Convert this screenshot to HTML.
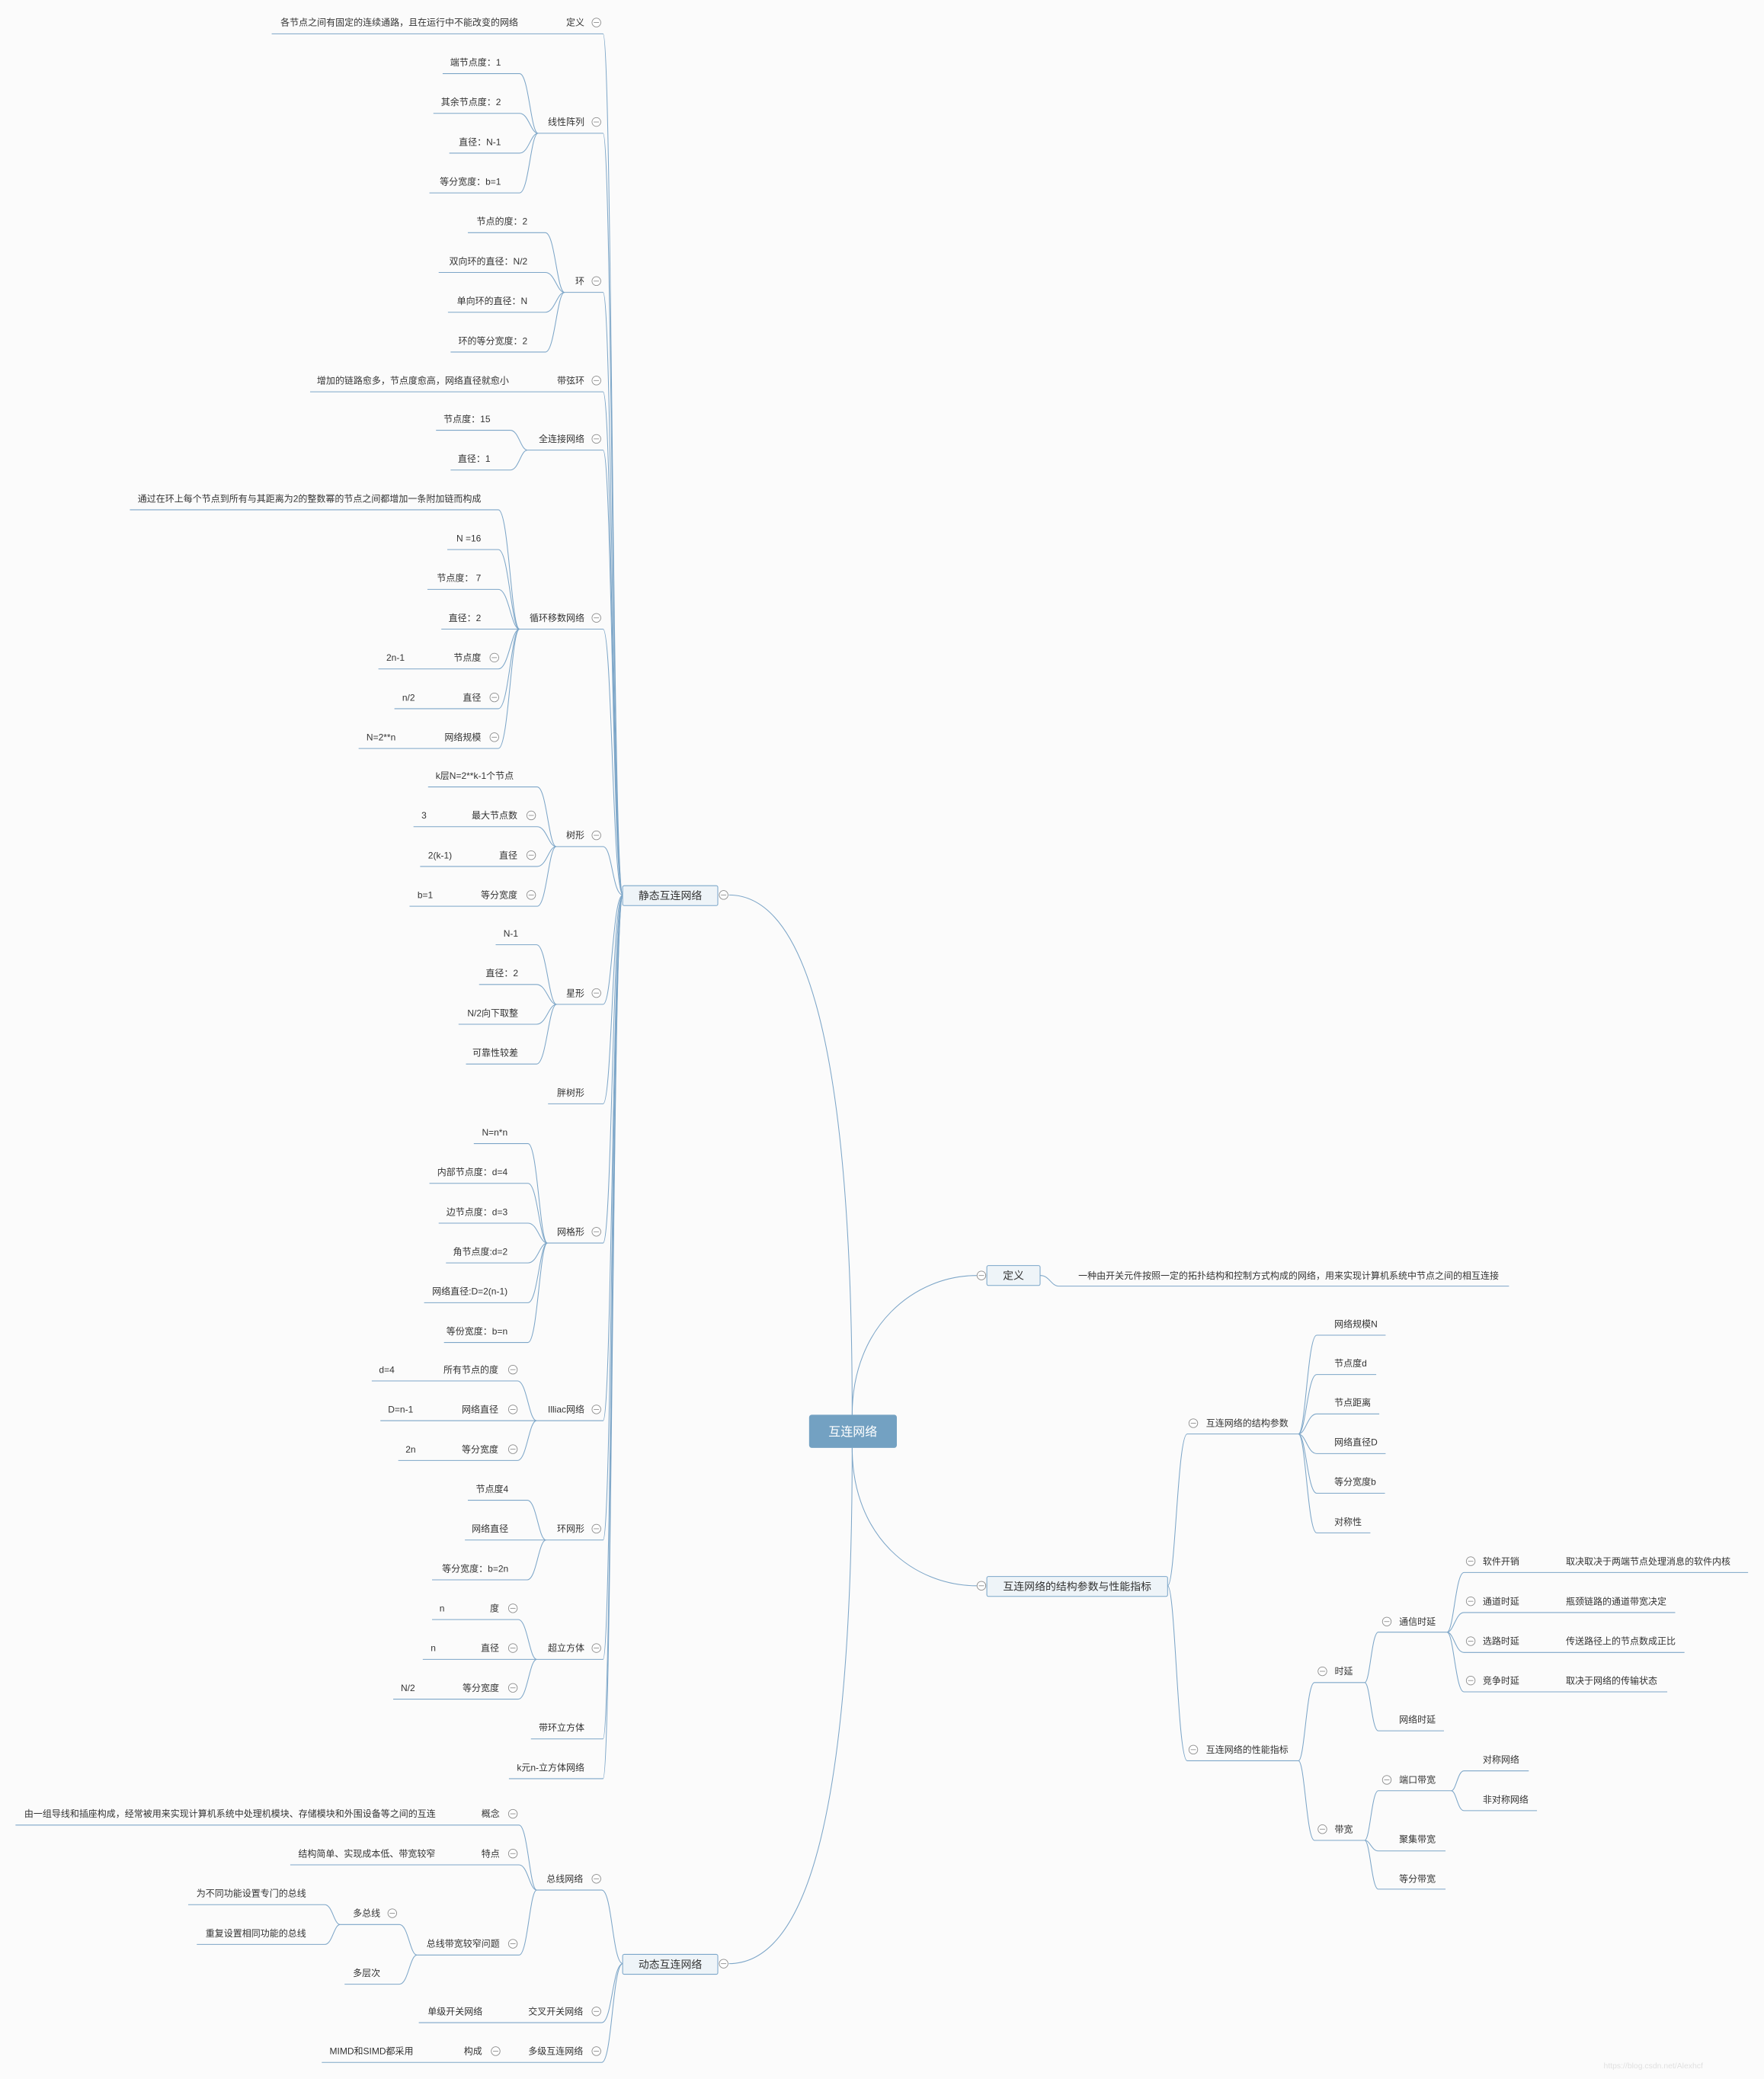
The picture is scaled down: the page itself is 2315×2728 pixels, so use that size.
<!DOCTYPE html>
<html><head><meta charset="utf-8"><style>
html,body{margin:0;padding:0;background:#fbfbfb;}
svg{display:block;}
text{font-family:"Liberation Sans","Noto Sans CJK SC",sans-serif;font-size:6.9px;fill:#333;}
.e{text-anchor:end;}
.l{fill:none;stroke:#7da6c8;stroke-width:0.6;}
</style></head><body>
<svg width="2315" height="2728" viewBox="0 0 1331 1568" preserveAspectRatio="none" xmlns="http://www.w3.org/2000/svg">
<defs>
<g id="c"><circle r="3.3" fill="#fff" stroke="#8a8a8a" stroke-width="0.5"/><path d="M-2 0H2" stroke="#8a8a8a" stroke-width="0.5"/></g>
</defs>
<rect width="1331" height="1568" fill="#fbfbfb"/>

<!-- root connectors -->
<g class="l">
<path d="M643 1067C643 760 600 675 550 675"/>
<path d="M643 1092C643 1400 600 1481 550 1481"/>
<path d="M643 1067C643 1000 690 962 737 962"/>
<path d="M643 1092C643 1160 690 1196 737 1196"/>

<!-- static L1 -->
<path d="M205 25.5H455C462 25.5 462 675 470 675"/>
<path d="M406 100.5H455C462 100.5 462 675 470 675"/>
<path d="M426 220.5H455C462 220.5 462 675 470 675"/>
<path d="M234 295.5H455C462 295.5 462 675 470 675"/>
<path d="M398 339.5H455C462 339.5 462 675 470 675"/>
<path d="M392 474.5H455C462 474.5 462 675 470 675"/>
<path d="M419.7 638.5H455C462 638.5 462 675 470 675"/>
<path d="M420 757.5H455C462 757.5 462 675 470 675"/>
<path d="M413.5 832.5H455C462 832.5 462 675 470 675"/>
<path d="M413 937.5H455C462 937.5 462 675 470 675"/>
<path d="M404.8 1071.5H455C462 1071.5 462 675 470 675"/>
<path d="M412 1161.5H455C462 1161.5 462 675 470 675"/>
<path d="M405 1251.5H455C462 1251.5 462 675 470 675"/>
<path d="M400.6 1311.5H455C462 1311.5 462 675 470 675"/>
<path d="M384 1341.5H455C462 1341.5 462 675 470 675"/>

<!-- 线性阵列 -->
<path d="M334 55.5H392C399 55.5 400.4 100.5 406 100.5"/>
<path d="M327 85.5H392C399 85.5 400.4 100.5 406 100.5"/>
<path d="M339 115.5H392C399 115.5 400.4 100.5 406 100.5"/>
<path d="M324 145.5H392C399 145.5 400.4 100.5 406 100.5"/>
<!-- 环 -->
<path d="M353 175.5H411.5C418.7 175.5 420.2 220.5 426 220.5"/>
<path d="M331 205.5H411.5C418.7 205.5 420.2 220.5 426 220.5"/>
<path d="M338 235.5H411.5C418.7 235.5 420.2 220.5 426 220.5"/>
<path d="M340 265.5H411.5C418.7 265.5 420.2 220.5 426 220.5"/>
<!-- 全连接 -->
<path d="M329 324.5H385C391.5 324.5 392.8 339.5 398 339.5"/>
<path d="M340 354.5H385C391.5 354.5 392.8 339.5 398 339.5"/>
<!-- 循环移数 -->
<path d="M98 384.5H376C384 384.5 385.6 474.5 392 474.5"/>
<path d="M337.5 414.5H376C384 414.5 385.6 474.5 392 474.5"/>
<path d="M322.5 444.5H376C384 444.5 385.6 474.5 392 474.5"/>
<path d="M333 474.5H392"/>
<path d="M285.5 504.5H376C384 504.5 385.6 474.5 392 474.5"/>
<path d="M297.6 534.5H376C384 534.5 385.6 474.5 392 474.5"/>
<path d="M270.6 564.5H376C384 564.5 385.6 474.5 392 474.5"/>
<!-- 树形 -->
<path d="M323 593.5H405.3C412.5 593.5 413.9 638.5 419.7 638.5"/>
<path d="M312 623.5H405.3C412.5 623.5 413.9 638.5 419.7 638.5"/>
<path d="M317 653.5H405.3C412.5 653.5 413.9 638.5 419.7 638.5"/>
<path d="M309 683.5H405.3C412.5 683.5 413.9 638.5 419.7 638.5"/>
<!-- 星形 -->
<path d="M374 712.5H404.8C412.4 712.5 413.9 757.5 420 757.5"/>
<path d="M361.5 742.5H404.8C412.4 742.5 413.9 757.5 420 757.5"/>
<path d="M346 772.5H404.8C412.4 772.5 413.9 757.5 420 757.5"/>
<path d="M351.6 802.5H404.8C412.4 802.5 413.9 757.5 420 757.5"/>
<!-- 网格形 -->
<path d="M357.5 862.5H398.4C405.7 862.5 407.2 937.5 413 937.5"/>
<path d="M324 892.5H398.4C405.7 892.5 407.2 937.5 413 937.5"/>
<path d="M331 922.5H398.4C405.7 922.5 407.2 937.5 413 937.5"/>
<path d="M336.5 952.5H398.4C405.7 952.5 407.2 937.5 413 937.5"/>
<path d="M320 982.5H398.4C405.7 982.5 407.2 937.5 413 937.5"/>
<path d="M335 1012.5H398.4C405.7 1012.5 407.2 937.5 413 937.5"/>
<!-- Illiac -->
<path d="M280.5 1041.5H390.4C397.6 1041.5 399 1071.5 404.8 1071.5"/>
<path d="M287 1071.5H404.8"/>
<path d="M300.5 1101.5H390.4C397.6 1101.5 399 1071.5 404.8 1071.5"/>
<!-- 环网形 -->
<path d="M353 1131.5H397.8C404.9 1131.5 406.3 1161.5 412 1161.5"/>
<path d="M350.8 1161.5H412"/>
<path d="M326 1191.5H397.8C404.9 1191.5 406.3 1161.5 412 1161.5"/>
<!-- 超立方体 -->
<path d="M326 1221.5H391C398 1221.5 399.4 1251.5 405 1251.5"/>
<path d="M319 1251.5H405"/>
<path d="M296.7 1281.5H391C398 1281.5 399.4 1251.5 405 1251.5"/>

<!-- dynamic L1 -->
<path d="M405 1425.5H454C462 1425.5 462 1481 470 1481"/>
<path d="M316 1525.5H454C462 1525.5 462 1481 470 1481"/>
<path d="M242.8 1555.5H454C462 1555.5 462 1481 470 1481"/>
<!-- 总线网络 -->
<path d="M11.7 1376.5H391.6C398.3 1376.5 399.6 1425.5 405 1425.5"/>
<path d="M219 1406.5H391.6C398.3 1406.5 399.6 1425.5 405 1425.5"/>
<path d="M314.6 1474.5H391.6C398.3 1474.5 399.6 1425.5 405 1425.5"/>
<path d="M256.6 1451.5H301.4C308 1451.5 309.3 1474.5 314.6 1474.5"/>
<path d="M260 1496.5H301.4C308 1496.5 309.3 1474.5 314.6 1474.5"/>
<path d="M142 1436.5H245C250.8 1436.5 252 1451.5 256.6 1451.5"/>
<path d="M148.5 1466.5H245C250.8 1466.5 252 1451.5 256.6 1451.5"/>

<!-- right side -->
<path d="M785 962C792 962 793 970 799 970H1138.6"/>
<path d="M881 1196C886.9 1196 888.4 1081.5 895.8 1081.5H979.7"/>
<path d="M881 1196C886.9 1196 888.4 1328 895.8 1328H979.7"/>
<path d="M979.7 1081.5C985.2 1081.5 986.6 1007 993.5 1007H1045.5"/>
<path d="M979.7 1081.5C985.2 1081.5 986.6 1036.7 993.5 1036.7H1038.4"/>
<path d="M979.7 1081.5C985.2 1081.5 986.6 1066.4 993.5 1066.4H1040.7"/>
<path d="M979.7 1081.5C985.2 1081.5 986.6 1096.3 993.5 1096.3H1045.5"/>
<path d="M979.7 1081.5C985.2 1081.5 986.6 1126.2 993.5 1126.2H1045"/>
<path d="M979.7 1081.5C985.2 1081.5 986.6 1156.1 993.5 1156.1H1034"/>
<path d="M979.7 1328C984.5 1328 985.8 1269 991.8 1269H1029.7"/>
<path d="M979.7 1328C984.5 1328 985.8 1388 991.8 1388H1029.7"/>
<path d="M1029.7 1269C1033.8 1269 1034.9 1231 1040 1231H1091.8"/>
<path d="M1029.7 1269C1033.8 1269 1034.9 1305.4 1040 1305.4H1089.5"/>
<path d="M1091.8 1231C1096.9 1231 1098.2 1186 1104.6 1186H1319"/>
<path d="M1091.8 1231C1096.9 1231 1098.2 1216.2 1104.6 1216.2H1264"/>
<path d="M1091.8 1231C1096.9 1231 1098.2 1246.3 1104.6 1246.3H1271"/>
<path d="M1091.8 1231C1096.9 1231 1098.2 1276 1104.6 1276H1258"/>
<path d="M1029.7 1388C1033.8 1388 1034.9 1350.6 1040 1350.6H1095"/>
<path d="M1029.7 1388C1033.8 1388 1034.9 1396 1040 1396H1090.7"/>
<path d="M1029.7 1388C1033.8 1388 1034.9 1424.8 1040 1424.8H1090.7"/>
<path d="M1095 1350.6C1098.8 1350.6 1099.8 1335.6 1104.6 1335.6H1153.5"/>
<path d="M1095 1350.6C1098.8 1350.6 1099.8 1365.6 1104.6 1365.6H1159.7"/>
</g>

<!-- boxes -->
<rect x="610.5" y="1067" width="66.2" height="25" rx="2" fill="#73a1c2"/>
<text x="643.5" y="1082.8" style="font-size:9.2px;fill:#fff;text-anchor:middle">互连网络</text>
<rect x="469.8" y="668" width="71.8" height="15" rx="1.2" fill="#eef4f8" stroke="#7ba6c9" stroke-width="0.6"/>
<text x="505.7" y="678.3" style="font-size:8px;text-anchor:middle">静态互连网络</text>
<rect x="469.8" y="1474" width="71.8" height="15" rx="1.2" fill="#eef4f8" stroke="#7ba6c9" stroke-width="0.6"/>
<text x="505.7" y="1484.3" style="font-size:8px;text-anchor:middle">动态互连网络</text>
<rect x="744.6" y="954.5" width="40.2" height="15" rx="1.2" fill="#eef4f8" stroke="#7ba6c9" stroke-width="0.6"/>
<text x="764.7" y="964.8" style="font-size:8px;text-anchor:middle">定义</text>
<rect x="744.6" y="1189" width="136.4" height="15" rx="1.2" fill="#eef4f8" stroke="#7ba6c9" stroke-width="0.6"/>
<text x="812.8" y="1199.3" style="font-size:8px;text-anchor:middle">互连网络的结构参数与性能指标</text>

<!-- circles -->
<use href="#c" x="546" y="675"/><use href="#c" x="546" y="1481"/>
<use href="#c" x="740.5" y="962"/><use href="#c" x="740.5" y="1196"/>
<use href="#c" x="450" y="17"/><use href="#c" x="450" y="92"/><use href="#c" x="450" y="212"/>
<use href="#c" x="450" y="287"/><use href="#c" x="450" y="331"/><use href="#c" x="450" y="466"/>
<use href="#c" x="450" y="630"/><use href="#c" x="450" y="749"/><use href="#c" x="450" y="929"/>
<use href="#c" x="450" y="1063"/><use href="#c" x="450" y="1153"/><use href="#c" x="450" y="1243"/>
<use href="#c" x="373" y="496"/><use href="#c" x="373" y="526"/><use href="#c" x="373" y="556"/>
<use href="#c" x="400.8" y="615"/><use href="#c" x="400.8" y="645"/><use href="#c" x="400.8" y="675"/>
<use href="#c" x="387" y="1033"/><use href="#c" x="387" y="1063"/><use href="#c" x="387" y="1093"/>
<use href="#c" x="387" y="1213"/><use href="#c" x="387" y="1243"/><use href="#c" x="387" y="1273"/>
<use href="#c" x="450" y="1417"/><use href="#c" x="450" y="1517"/><use href="#c" x="450" y="1547"/>
<use href="#c" x="387" y="1368"/><use href="#c" x="387" y="1398"/><use href="#c" x="387" y="1466"/>
<use href="#c" x="296" y="1443"/><use href="#c" x="374" y="1547"/>
<use href="#c" x="900.4" y="1073.4"/><use href="#c" x="900.4" y="1319.6"/>
<use href="#c" x="997.8" y="1260.5"/><use href="#c" x="997.8" y="1379.6"/>
<use href="#c" x="1046.4" y="1223"/><use href="#c" x="1046.4" y="1342.4"/>
<use href="#c" x="1109.7" y="1177.5"/><use href="#c" x="1109.7" y="1207.7"/>
<use href="#c" x="1109.7" y="1237.8"/><use href="#c" x="1109.7" y="1267.5"/>

<!-- static texts -->
<text class="e" x="441" y="19.4">定义</text>
<text class="e" x="391" y="19.4">各节点之间有固定的连续通路，且在运行中不能改变的网络</text>
<text class="e" x="441" y="94.4">线性阵列</text>
<text class="e" x="378" y="49.4">端节点度：1</text>
<text class="e" x="378" y="79.4">其余节点度：2</text>
<text class="e" x="378" y="109.4">直径：N-1</text>
<text class="e" x="378" y="139.4">等分宽度：b=1</text>
<text class="e" x="441" y="214.4">环</text>
<text class="e" x="398" y="169.4">节点的度：2</text>
<text class="e" x="398" y="199.4">双向环的直径：N/2</text>
<text class="e" x="398" y="229.4">单向环的直径：N</text>
<text class="e" x="398" y="259.4">环的等分宽度：2</text>
<text class="e" x="441" y="289.4">带弦环</text>
<text class="e" x="384" y="289.4">增加的链路愈多，节点度愈高，网络直径就愈小</text>
<text class="e" x="441" y="333.4">全连接网络</text>
<text class="e" x="370" y="318.4">节点度：15</text>
<text class="e" x="370" y="348.4">直径：1</text>
<text class="e" x="441" y="468.4">循环移数网络</text>
<text class="e" x="363" y="378.4">通过在环上每个节点到所有与其距离为2的整数幂的节点之间都增加一条附加链而构成</text>
<text class="e" x="363" y="408.4">N =16</text>
<text class="e" x="363" y="438.4">节点度：  7</text>
<text class="e" x="363" y="468.4">直径：2</text>
<text class="e" x="363" y="498.4">节点度</text><text x="291.5" y="498.4">2n-1</text>
<text class="e" x="363" y="528.4">直径</text><text x="303.5" y="528.4">n/2</text>
<text class="e" x="363" y="558.4">网络规模</text><text x="276.5" y="558.4">N=2**n</text>
<text class="e" x="441" y="632.4">树形</text>
<text class="e" x="387.6" y="587.4">k层N=2**k-1个节点</text>
<text class="e" x="390.4" y="617.4">最大节点数</text><text x="318" y="617.4">3</text>
<text class="e" x="390.4" y="647.4">直径</text><text x="323" y="647.4">2(k-1)</text>
<text class="e" x="390.4" y="677.4">等分宽度</text><text x="315" y="677.4">b=1</text>
<text class="e" x="441" y="751.4">星形</text>
<text class="e" x="391" y="706.4">N-1</text>
<text class="e" x="391" y="736.4">直径：2</text>
<text class="e" x="391" y="766.4">N/2向下取整</text>
<text class="e" x="391" y="796.4">可靠性较差</text>
<text class="e" x="441" y="826.4">胖树形</text>
<text class="e" x="441" y="931.4">网格形</text>
<text class="e" x="383" y="856.4">N=n*n</text>
<text class="e" x="383" y="886.4">内部节点度：d=4</text>
<text class="e" x="383" y="916.4">边节点度：d=3</text>
<text class="e" x="383" y="946.4">角节点度:d=2</text>
<text class="e" x="383" y="976.4">网络直径:D=2(n-1)</text>
<text class="e" x="383" y="1006.4">等份宽度：b=n</text>
<text class="e" x="441" y="1065.4">Illiac网络</text>
<text class="e" x="376" y="1035.4">所有节点的度</text><text x="286" y="1035.4">d=4</text>
<text class="e" x="376" y="1065.4">网络直径</text><text x="292.8" y="1065.4">D=n-1</text>
<text class="e" x="376" y="1095.4">等分宽度</text><text x="306" y="1095.4">2n</text>
<text class="e" x="441" y="1155.4">环网形</text>
<text class="e" x="383.6" y="1125.4">节点度4</text>
<text class="e" x="383.6" y="1155.4">网络直径</text>
<text class="e" x="383.6" y="1185.4">等分宽度：b=2n</text>
<text class="e" x="441" y="1245.4">超立方体</text>
<text class="e" x="376.6" y="1215.4">度</text><text x="331.6" y="1215.4">n</text>
<text class="e" x="376.6" y="1245.4">直径</text><text x="325" y="1245.4">n</text>
<text class="e" x="376.6" y="1275.4">等分宽度</text><text x="302.4" y="1275.4">N/2</text>
<text class="e" x="441" y="1305.4">带环立方体</text>
<text class="e" x="441" y="1335.4">k元n-立方体网络</text>

<!-- dynamic texts -->
<text class="e" x="440" y="1419.4">总线网络</text>
<text class="e" x="377" y="1370.4">概念</text>
<text x="18.3" y="1370.4">由一组导线和插座构成，经常被用来实现计算机系统中处理机模块、存储模块和外围设备等之间的互连</text>
<text class="e" x="377" y="1400.4">特点</text>
<text x="225" y="1400.4">结构简单、实现成本低、带宽较窄</text>
<text class="e" x="377" y="1468.4">总线带宽较窄问题</text>
<text class="e" x="287" y="1445.4">多总线</text>
<text class="e" x="231" y="1430.4">为不同功能设置专门的总线</text>
<text class="e" x="231" y="1460.4">重复设置相同功能的总线</text>
<text class="e" x="287" y="1490.4">多层次</text>
<text class="e" x="440" y="1519.4">交叉开关网络</text>
<text x="322.7" y="1519.4">单级开关网络</text>
<text class="e" x="440" y="1549.4">多级互连网络</text>
<text class="e" x="363.8" y="1549.4">构成</text>
<text x="248.7" y="1549.4">MIMD和SIMD都采用</text>

<!-- right texts -->
<text x="813.6" y="964.4">一种由开关元件按照一定的拓扑结构和控制方式构成的网络，用来实现计算机系统中节点之间的相互连接</text>
<text x="910" y="1075.8">互连网络的结构参数</text>
<text x="1006.8" y="1000.9">网络规模N</text>
<text x="1006.8" y="1030.6">节点度d</text>
<text x="1006.8" y="1060.3">节点距离</text>
<text x="1006.8" y="1090.2">网络直径D</text>
<text x="1006.8" y="1120.1">等分宽度b</text>
<text x="1006.8" y="1150">对称性</text>
<text x="910" y="1322">互连网络的性能指标</text>
<text x="1007" y="1262.9">时延</text>
<text x="1055.7" y="1225.4">通信时延</text>
<text x="1118.8" y="1179.9">软件开销</text><text x="1181.5" y="1179.9">取决取决于两端节点处理消息的软件内核</text>
<text x="1118.8" y="1210.1">通道时延</text><text x="1181.5" y="1210.1">瓶颈链路的通道带宽决定</text>
<text x="1118.8" y="1240.2">选路时延</text><text x="1181.5" y="1240.2">传送路径上的节点数成正比</text>
<text x="1118.8" y="1269.9">竞争时延</text><text x="1181.5" y="1269.9">取决于网络的传输状态</text>
<text x="1055.7" y="1299.4">网络时延</text>
<text x="1007" y="1382">带宽</text>
<text x="1055.7" y="1344.8">端口带宽</text>
<text x="1118.8" y="1329.4">对称网络</text>
<text x="1118.8" y="1359.7">非对称网络</text>
<text x="1055.7" y="1389.4">聚集带宽</text>
<text x="1055.7" y="1419.4">等分带宽</text>

<text x="1210" y="1560" style="font-size:6px;fill:#e0e0e0">https://blog.csdn.net/Alexhcf</text>
</svg>
</body></html>
